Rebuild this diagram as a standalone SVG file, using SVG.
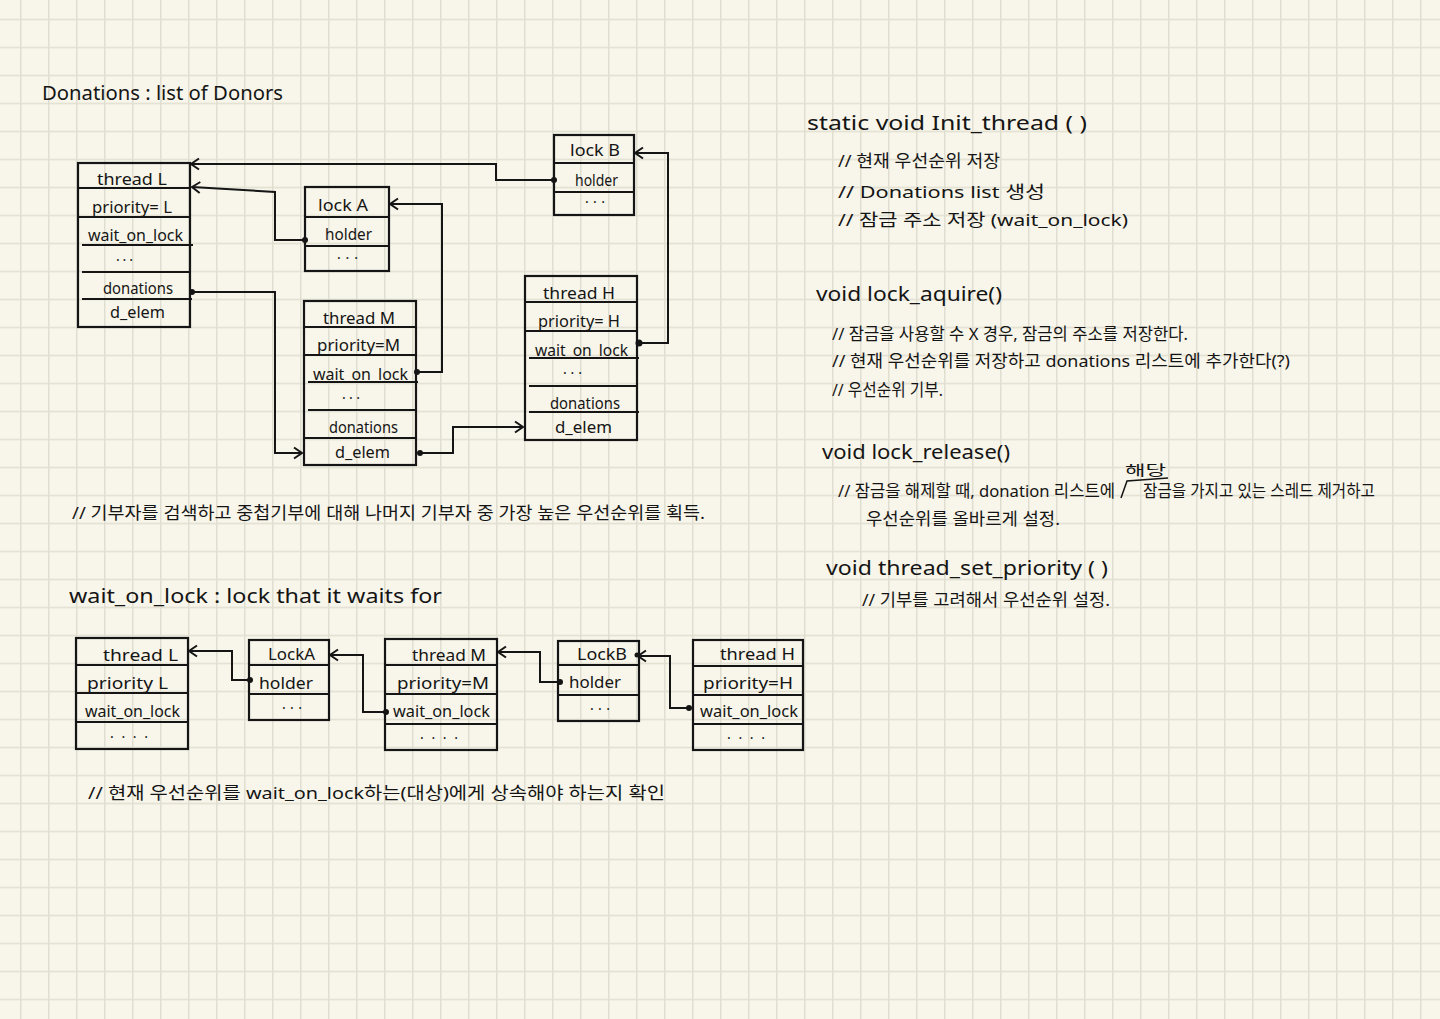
<svg xmlns="http://www.w3.org/2000/svg" width="1440" height="1019" viewBox="0 0 1440 1019">
<style>
.bx{fill:none;stroke:#151515;stroke-width:2.2}
.dv{stroke:#151515;stroke-width:2}
.t{font-family:"Noto Sans","Noto Sans CJK KR",sans-serif;font-size:17px;fill:#151515}
.d{font-family:"Noto Sans",sans-serif;font-size:14px;fill:#151515}
.h{font-family:"Noto Sans","Noto Sans CJK KR",sans-serif;font-size:19px;fill:#151515}
.k{font-family:"Noto Sans","Noto Sans CJK KR",sans-serif;font-size:17px;fill:#151515}
.cn{fill:none;stroke:#151515;stroke-width:2;marker-end:url(#arr)}
.dot{fill:#151515}
</style>
<defs>
<pattern id="grid" x="20" y="18.7" width="28" height="28" patternUnits="userSpaceOnUse">
<rect width="28" height="28" fill="#f8f6ea"/>
<rect x="0" y="0" width="28" height="1.5" fill="#e0ddd1"/>
<rect x="0" y="0" width="1.5" height="28" fill="#e0ddd1"/>
</pattern>
<marker id="arr" markerUnits="userSpaceOnUse" markerWidth="14" markerHeight="14" viewBox="-10 -7 12 14" refX="0" refY="0" orient="auto">
<path d="M-8,-5.5 L0,0 L-8,5.5" fill="none" stroke="#151515" stroke-width="2"/>
</marker>
</defs>
<rect width="1440" height="1019" fill="url(#grid)"/>

<text class="h" x="42" y="100" textLength="241" lengthAdjust="spacingAndGlyphs">Donations : list of Donors</text>

<!-- top diagram nodes -->
<g id="threadL-top">
<rect class="bx" x="78" y="163" width="112" height="164"/>
<line class="dv" x1="78" y1="188" x2="190" y2="188"/>
<line class="dv" x1="78" y1="217" x2="190" y2="217"/>
<line class="dv" x1="82" y1="245" x2="193" y2="245"/>
<line class="dv" x1="82" y1="272" x2="190" y2="272"/>
<line class="dv" x1="82" y1="299" x2="192" y2="299"/>
<text class="t" x="97" y="185" textLength="70" lengthAdjust="spacingAndGlyphs">thread L</text>
<text class="t" x="92" y="213" textLength="80" lengthAdjust="spacingAndGlyphs">priority= L</text>
<text class="t" x="88" y="241" textLength="95" lengthAdjust="spacingAndGlyphs">wait_on_lock</text>
<text class="d" x="116" y="265" textLength="17" lengthAdjust="spacing">···</text>
<text class="t" x="103" y="294" textLength="70" lengthAdjust="spacingAndGlyphs">donations</text>
<text class="t" x="110" y="318" textLength="55" lengthAdjust="spacingAndGlyphs">d_elem</text>
</g>
<g id="lockA-top">
<rect class="bx" x="305" y="187" width="84" height="84"/>
<line class="dv" x1="305" y1="217" x2="389" y2="217"/>
<line class="dv" x1="305" y1="246" x2="389" y2="246"/>
<text class="t" x="318" y="211" textLength="50" lengthAdjust="spacingAndGlyphs">lock A</text>
<text class="t" x="325" y="240" textLength="47" lengthAdjust="spacingAndGlyphs">holder</text>
<text class="d" x="337" y="263" textLength="21" lengthAdjust="spacing">···</text>
</g>
<g id="threadM-top">
<rect class="bx" x="304" y="301" width="112" height="164"/>
<line class="dv" x1="304" y1="327" x2="416" y2="327"/>
<line class="dv" x1="304" y1="355" x2="416" y2="355"/>
<line class="dv" x1="308" y1="382" x2="418" y2="382"/>
<line class="dv" x1="308" y1="410" x2="416" y2="410"/>
<line class="dv" x1="304" y1="438" x2="417" y2="438"/>
<text class="t" x="323" y="324" textLength="72" lengthAdjust="spacingAndGlyphs">thread M</text>
<text class="t" x="317" y="351" textLength="83" lengthAdjust="spacingAndGlyphs">priority=M</text>
<text class="t" x="313" y="380" textLength="95" lengthAdjust="spacingAndGlyphs">wait_on_lock</text>
<text class="d" x="342" y="403" textLength="18" lengthAdjust="spacing">···</text>
<text class="t" x="329" y="433" textLength="69" lengthAdjust="spacingAndGlyphs">donations</text>
<text class="t" x="335" y="458" textLength="55" lengthAdjust="spacingAndGlyphs">d_elem</text>
</g>
<g id="lockB-top">
<rect class="bx" x="554" y="135" width="80" height="80"/>
<line class="dv" x1="554" y1="163" x2="634" y2="163"/>
<line class="dv" x1="554" y1="192" x2="634" y2="192"/>
<text class="t" x="570" y="156" textLength="50" lengthAdjust="spacingAndGlyphs">lock B</text>
<text class="t" x="575" y="186" textLength="43" lengthAdjust="spacingAndGlyphs">holder</text>
<text class="d" x="585" y="207" textLength="20" lengthAdjust="spacing">···</text>
</g>
<g id="threadH-top">
<rect class="bx" x="525" y="276" width="112" height="164"/>
<line class="dv" x1="525" y1="302" x2="637" y2="302"/>
<line class="dv" x1="525" y1="331" x2="637" y2="331"/>
<line class="dv" x1="529" y1="358" x2="639" y2="358"/>
<line class="dv" x1="529" y1="386" x2="637" y2="386"/>
<line class="dv" x1="529" y1="412" x2="639" y2="412"/>
<text class="t" x="543" y="299" textLength="72" lengthAdjust="spacingAndGlyphs">thread H</text>
<text class="t" x="538" y="327" textLength="82" lengthAdjust="spacingAndGlyphs">priority= H</text>
<text class="t" x="535" y="356" textLength="93" lengthAdjust="spacingAndGlyphs">wait_on_lock</text>
<text class="d" x="563" y="378" textLength="19" lengthAdjust="spacing">···</text>
<text class="t" x="550" y="409" textLength="70" lengthAdjust="spacingAndGlyphs">donations</text>
<text class="t" x="555" y="433" textLength="57" lengthAdjust="spacingAndGlyphs">d_elem</text>
</g>

<!-- bottom diagram nodes -->
<g id="threadL-bot">
<rect class="bx" x="76" y="638" width="112" height="111"/>
<line class="dv" x1="76" y1="665" x2="188" y2="665"/>
<line class="dv" x1="76" y1="693" x2="188" y2="693"/>
<line class="dv" x1="76" y1="722" x2="188" y2="722"/>
<text class="t" x="103" y="661" textLength="75" lengthAdjust="spacingAndGlyphs">thread L</text>
<text class="t" x="87" y="689" textLength="81" lengthAdjust="spacingAndGlyphs">priority L</text>
<text class="t" x="85" y="717" textLength="95" lengthAdjust="spacingAndGlyphs">wait_on_lock</text>
<text class="d" x="110" y="742" textLength="38" lengthAdjust="spacing">····</text>
</g>
<g id="lockA-bot">
<rect class="bx" x="249" y="640" width="80" height="80"/>
<line class="dv" x1="249" y1="665" x2="329" y2="665"/>
<line class="dv" x1="249" y1="694" x2="329" y2="694"/>
<text class="t" x="268" y="660" textLength="47" lengthAdjust="spacingAndGlyphs">LockA</text>
<text class="t" x="259" y="689" textLength="54" lengthAdjust="spacingAndGlyphs">holder</text>
<text class="d" x="282" y="713" textLength="20" lengthAdjust="spacing">···</text>
</g>
<g id="threadM-bot">
<rect class="bx" x="385" y="639" width="112" height="111"/>
<line class="dv" x1="385" y1="665" x2="497" y2="665"/>
<line class="dv" x1="385" y1="694" x2="497" y2="694"/>
<line class="dv" x1="385" y1="724" x2="497" y2="724"/>
<text class="t" x="412" y="661" textLength="74" lengthAdjust="spacingAndGlyphs">thread M</text>
<text class="t" x="397" y="689" textLength="92" lengthAdjust="spacingAndGlyphs">priority=M</text>
<text class="t" x="393" y="717" textLength="97" lengthAdjust="spacingAndGlyphs">wait_on_lock</text>
<text class="d" x="420" y="743" textLength="38" lengthAdjust="spacing">····</text>
</g>
<g id="lockB-bot">
<rect class="bx" x="558" y="641" width="81" height="80"/>
<line class="dv" x1="558" y1="665" x2="639" y2="665"/>
<line class="dv" x1="558" y1="695" x2="639" y2="695"/>
<text class="t" x="577" y="660" textLength="50" lengthAdjust="spacingAndGlyphs">LockB</text>
<text class="t" x="569" y="688" textLength="52" lengthAdjust="spacingAndGlyphs">holder</text>
<text class="d" x="590" y="714" textLength="20" lengthAdjust="spacing">···</text>
</g>
<g id="threadH-bot">
<rect class="bx" x="693" y="640" width="110" height="110"/>
<line class="dv" x1="693" y1="666" x2="803" y2="666"/>
<line class="dv" x1="693" y1="695" x2="803" y2="695"/>
<line class="dv" x1="693" y1="724" x2="803" y2="724"/>
<text class="t" x="720" y="660" textLength="75" lengthAdjust="spacingAndGlyphs">thread H</text>
<text class="t" x="703" y="689" textLength="90" lengthAdjust="spacingAndGlyphs">priority=H</text>
<text class="t" x="700" y="717" textLength="98" lengthAdjust="spacingAndGlyphs">wait_on_lock</text>
<text class="d" x="727" y="743" textLength="38" lengthAdjust="spacing">····</text>
</g>

<!-- connectors -->
<g id="connectors">
<path class="cn" d="M554,180 H496 V164 H191"/>
<path class="cn" d="M305,240 H275 V192 L192,187"/>
<path class="cn" d="M417,372 H442 V204 H390"/>
<path class="cn" d="M192,292 H275 V453 H302"/>
<path class="cn" d="M420,453 H453 V427 H523"/>
<path class="cn" d="M639,343 H668 V153 H635"/>
<path class="cn" d="M250,680 H232 V651 H189"/>
<path class="cn" d="M386,712 H363 V655 H330"/>
<path class="cn" d="M560,682 H540 V652 H498"/>
<path class="cn" d="M689,708 H670 V656 H638"/>
<circle class="dot" cx="554" cy="180" r="3"/>
<circle class="dot" cx="305" cy="240" r="3"/>
<circle class="dot" cx="417" cy="372" r="3"/>
<circle class="dot" cx="192" cy="292" r="3"/>
<circle class="dot" cx="420" cy="453" r="3"/>
<circle class="dot" cx="639" cy="343" r="3.5"/>
<circle class="dot" cx="250" cy="680" r="3"/>
<circle class="dot" cx="386" cy="712" r="3"/>
<circle class="dot" cx="560" cy="682" r="3"/>
<circle class="dot" cx="689" cy="708" r="3"/>
<circle class="dot" cx="637" cy="655" r="2.5"/>
</g>

<!-- notes -->
<text class="k" x="72" y="519" textLength="633" lengthAdjust="spacingAndGlyphs">// 기부자를 검색하고 중첩기부에 대해 나머지 기부자 중 가장 높은 우선순위를 획득.</text>
<text class="h" x="69" y="603" textLength="373" lengthAdjust="spacingAndGlyphs">wait_on_lock : lock that it waits for</text>
<text class="k" x="88" y="799" textLength="577" lengthAdjust="spacingAndGlyphs">// 현재 우선순위를 wait_on_lock하는(대상)에게 상속해야 하는지 확인</text>

<text class="h" x="807" y="130" textLength="280" lengthAdjust="spacingAndGlyphs">static void Init_thread (  )</text>
<text class="k" x="838" y="167" textLength="162" lengthAdjust="spacingAndGlyphs">// 현재 우선순위 저장</text>
<text class="k" x="838" y="198" textLength="207" lengthAdjust="spacingAndGlyphs">// Donations list 생성</text>
<text class="k" x="838" y="226" textLength="290" lengthAdjust="spacingAndGlyphs">// 잠금 주소 저장 (wait_on_lock)</text>

<text class="h" x="816" y="301" textLength="186" lengthAdjust="spacingAndGlyphs">void lock_aquire()</text>
<text class="k" x="832" y="340" textLength="356" lengthAdjust="spacingAndGlyphs">// 잠금을 사용할 수 X 경우, 잠금의 주소를 저장한다.</text>
<text class="k" x="832" y="367" textLength="458" lengthAdjust="spacingAndGlyphs">// 현재 우선순위를 저장하고 donations 리스트에 추가한다(?)</text>
<text class="k" x="832" y="396" textLength="111" lengthAdjust="spacingAndGlyphs">// 우선순위 기부.</text>

<text class="h" x="822" y="459" textLength="188" lengthAdjust="spacingAndGlyphs">void lock_release()</text>
<text class="k" x="838" y="497" textLength="277" lengthAdjust="spacingAndGlyphs">// 잠금을 해제할 때, donation 리스트에</text>
<text class="k" x="1143" y="497" textLength="232" lengthAdjust="spacingAndGlyphs">잠금을 가지고 있는 스레드 제거하고</text>
<text class="k" x="1125" y="475" style="font-size:14px" textLength="41" lengthAdjust="spacingAndGlyphs">해당</text>
<path d="M1121,498 L1127,481 L1168,478" fill="none" stroke="#151515" stroke-width="1.5"/>
<text class="k" x="866" y="525" textLength="194" lengthAdjust="spacingAndGlyphs">우선순위를 올바르게 설정.</text>

<text class="h" x="826" y="575" textLength="282" lengthAdjust="spacingAndGlyphs">void thread_set_priority ( )</text>
<text class="k" x="862" y="606" textLength="248" lengthAdjust="spacingAndGlyphs">// 기부를 고려해서 우선순위 설정.</text>
</svg>
